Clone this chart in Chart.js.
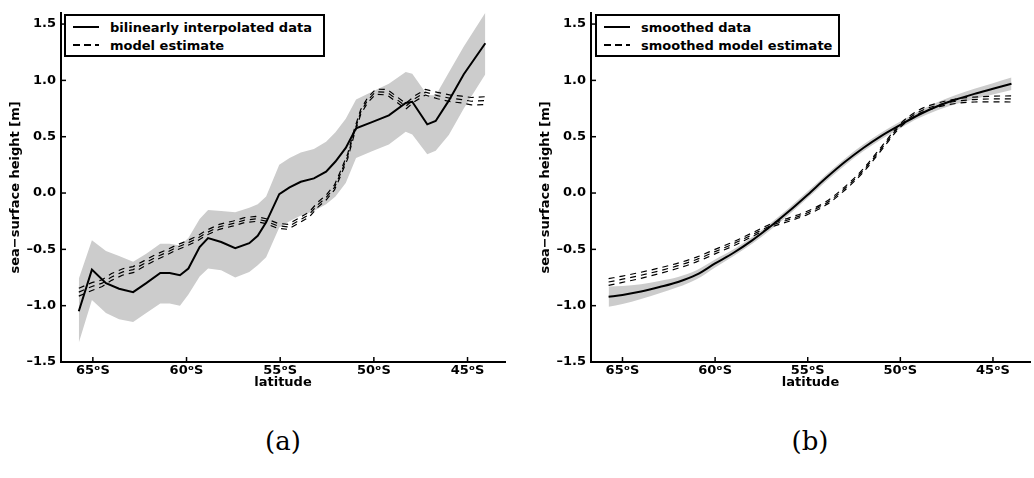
<!DOCTYPE html>
<html>
<head>
<meta charset="utf-8">
<script src="https://cdn.jsdelivr.net/npm/chart.js@4.4.0/dist/chart.umd.min.js"></script>
<style>
  body { margin: 0; background: #fff; width: 1034px; height: 478px; position: relative; overflow: hidden;
         font-family: 'DejaVu Sans', sans-serif; }
  canvas { position: absolute; top: 0; }
  .legend { position: absolute; top: 14px; height: 43px; box-sizing: border-box; border: 2px solid #000;
            background: #fff; padding-top: 2px; font-weight: bold; font-size: 13px; }
  .legend div { display: flex; align-items: center; height: 18px; white-space: nowrap; }
  .legend span.s { display: inline-block; margin-left: 7px; width: 26px; height: 2px; margin-right: 11px; background: #000; }
  .legend span.d { background: repeating-linear-gradient(to right, #000 0 7px, transparent 7px 11px); }
  .cap { position: absolute; top: 426px; width: 100px; line-height: 30px; text-align: center;
         font-family: 'DejaVu Serif', serif; font-size: 26px; }
</style>
</head>
<body>
<canvas id="chartA" width="515" height="400" style="left:0"></canvas>
<canvas id="chartB" width="504" height="400" style="left:530px"></canvas>

<div class="legend" style="left:64px; width:261px">
  <div><span class="s"></span>bilinearly interpolated data</div>
  <div><span class="s d"></span>model estimate</div>
</div>
<div class="legend" style="left:595px; width:245px">
  <div><span class="s"></span>smoothed data</div>
  <div><span class="s d"></span>smoothed model estimate</div>
</div>
<div class="cap" style="left:233px">(a)</div>
<div class="cap" style="left:760px">(b)</div>

<script>
// ---- panel (a): bilinearly interpolated data ----
const latA = [65.75, 65.05, 64.3, 63.6, 62.85, 62.15, 61.4, 60.9, 60.35, 59.9, 59.3, 58.85, 58.15, 57.4, 56.65, 56.2, 55.75,
              55.05, 54.5, 53.9, 53.2, 52.55, 52.05, 51.5, 50.95, 50.1, 49.2, 48.3, 47.95, 47.15, 46.7, 46.0, 45.2, 44.05];
const dataA = [-1.05, -0.68, -0.80, -0.85, -0.88, -0.80, -0.71, -0.71, -0.73, -0.67, -0.48, -0.40, -0.435, -0.49, -0.445, -0.38, -0.26,
               -0.01, 0.05, 0.10, 0.13, 0.19, 0.28, 0.40, 0.575, 0.63, 0.69, 0.80, 0.81, 0.61, 0.64, 0.82, 1.055, 1.33];
const bandHiA = [-0.76, -0.42, -0.515, -0.56, -0.61, -0.54, -0.45, -0.45, -0.465, -0.40, -0.23, -0.15, -0.16, -0.17, -0.13, -0.10, -0.03,
                 0.25, 0.31, 0.36, 0.39, 0.455, 0.54, 0.66, 0.83, 0.90, 0.97, 1.075, 1.06, 0.87, 0.865, 1.07, 1.30, 1.60];
const bandLoA = [-1.33, -0.95, -1.065, -1.12, -1.145, -1.065, -0.98, -0.98, -1.0, -0.90, -0.74, -0.67, -0.685, -0.75, -0.70, -0.64, -0.57,
                 -0.305, -0.25, -0.20, -0.16, -0.10, -0.03, 0.09, 0.31, 0.37, 0.43, 0.545, 0.52, 0.345, 0.375, 0.515, 0.75, 1.055];

const latModelA = [65.75, 65.05, 64.5, 64.0, 63.4, 62.85, 62.25, 61.7, 61.1, 60.55, 59.95, 59.4, 58.9, 58.25, 57.5, 56.9, 56.3, 55.75,
                   55.15, 54.6, 54.0, 53.45, 53.0, 52.55, 52.1, 51.8, 51.4, 51.05, 50.7, 50.35, 49.9, 49.3, 48.85, 48.3, 47.8, 47.25,
                   46.6, 45.9, 45.3, 44.8, 44.05];
const modelA = [-0.88, -0.83, -0.80, -0.745, -0.70, -0.68, -0.625, -0.575, -0.53, -0.485, -0.445, -0.40, -0.35, -0.30, -0.27, -0.24, -0.23, -0.25,
                -0.29, -0.30, -0.245, -0.19, -0.105, -0.04, 0.05, 0.165, 0.325, 0.54, 0.72, 0.82, 0.90, 0.895, 0.84, 0.77, 0.84, 0.895,
                0.865, 0.84, 0.83, 0.815, 0.82];
const modelHiA = [-0.845, -0.795, -0.77, -0.715, -0.672, -0.653, -0.6, -0.55, -0.507, -0.463, -0.423, -0.378, -0.328, -0.278, -0.248, -0.218, -0.208, -0.228,
                  -0.268, -0.278, -0.223, -0.168, -0.083, -0.018, 0.072, 0.187, 0.347, 0.562, 0.742, 0.842, 0.922, 0.92, 0.865, 0.795, 0.865, 0.92,
                  0.893, 0.87, 0.86, 0.848, 0.855];
const modelLoA = [-0.915, -0.865, -0.83, -0.775, -0.728, -0.707, -0.65, -0.6, -0.553, -0.507, -0.467, -0.422, -0.372, -0.322, -0.292, -0.262, -0.252, -0.272,
                  -0.312, -0.322, -0.267, -0.212, -0.127, -0.062, 0.028, 0.143, 0.303, 0.518, 0.698, 0.798, 0.878, 0.87, 0.815, 0.745, 0.815, 0.87,
                  0.837, 0.81, 0.80, 0.782, 0.785];

// ---- panel (b): smoothed ----
const latB = [65.75, 65, 64, 63, 62, 61, 60, 59, 58, 57, 56, 55, 54, 53, 52, 51, 50, 49, 48, 47, 46, 45, 44];
const smoothB = [-0.92, -0.905, -0.875, -0.835, -0.79, -0.725, -0.625, -0.53, -0.42, -0.295, -0.16, -0.015, 0.135, 0.275, 0.40, 0.51,
                 0.605, 0.695, 0.77, 0.83, 0.88, 0.925, 0.97];
const bandHiB = [-0.83, -0.825, -0.81, -0.78, -0.745, -0.685, -0.59, -0.50, -0.39, -0.265, -0.13, 0.015, 0.165, 0.305, 0.43, 0.54,
                 0.635, 0.725, 0.805, 0.87, 0.925, 0.975, 1.025];
const bandLoB = [-1.01, -0.985, -0.94, -0.89, -0.835, -0.765, -0.66, -0.56, -0.45, -0.325, -0.19, -0.045, 0.105, 0.245, 0.37, 0.48,
                 0.575, 0.665, 0.735, 0.79, 0.835, 0.875, 0.915];
const modelB = [-0.79, -0.765, -0.73, -0.69, -0.645, -0.59, -0.52, -0.45, -0.37, -0.29, -0.235, -0.175, -0.09, 0.04, 0.20, 0.40,
                0.60, 0.72, 0.78, 0.815, 0.83, 0.835, 0.835];
const modelHiB = [-0.76, -0.737, -0.703, -0.665, -0.622, -0.569, -0.5, -0.432, -0.354, -0.275, -0.22, -0.16, -0.075, 0.055, 0.215, 0.415,
                  0.615, 0.737, 0.798, 0.835, 0.852, 0.86, 0.862];
const modelLoB = [-0.82, -0.793, -0.757, -0.715, -0.668, -0.611, -0.54, -0.468, -0.386, -0.305, -0.25, -0.19, -0.105, 0.025, 0.185, 0.385,
                  0.585, 0.703, 0.762, 0.795, 0.808, 0.81, 0.808];

const yTicks = [-1.5, -1.0, -0.5, 0, 0.5, 1.0, 1.5];
const xTicks = [65, 60, 55, 50, 45];

const pts = (lat, vals) => lat.map((l, i) => ({x: -l, y: vals[i]}));

// matlab style ticks pointing into the plot
const innerTicks = {
  id: 'innerTicks',
  afterDraw(chart) {
    const ctx = chart.ctx, a = chart.chartArea;
    const sx = chart.scales.x, sy = chart.scales.y;
    ctx.save();
    ctx.strokeStyle = '#000';
    ctx.lineWidth = 1.5;
    sx.ticks.forEach(t => {
      const p = sx.getPixelForValue(t.value);
      ctx.beginPath(); ctx.moveTo(p, a.bottom); ctx.lineTo(p, a.bottom - 5); ctx.stroke();
    });
    sy.ticks.forEach(t => {
      const p = sy.getPixelForValue(t.value);
      ctx.beginPath(); ctx.moveTo(a.left, p); ctx.lineTo(a.left + 5, p); ctx.stroke();
    });
    ctx.restore();
  }
};

function line(data, dashed, smooth) {
  return {
    data: data, borderColor: '#000', borderWidth: dashed ? 1.2 : 2, borderDash: dashed ? [6, 5] : [],
    pointRadius: 0, fill: false, tension: 0, cubicInterpolationMode: smooth ? 'monotone' : 'default'
  };
}
function band(data, fill, smooth) {
  return {
    data: data, borderWidth: 0, borderColor: 'rgba(0,0,0,0)', backgroundColor: '#cccccc',
    pointRadius: 0, fill: fill, cubicInterpolationMode: smooth ? 'monotone' : 'default'
  };
}

function makeChart(id, datasets, padRight) {
  const font = {family: "'DejaVu Sans', sans-serif", size: 13, weight: 'bold'};
  return new Chart(document.getElementById(id), {
    type: 'line',
    data: {datasets: datasets},
    options: {
      responsive: false,
      animation: false,
      layout: {padding: {left: 0, right: padRight, top: 10, bottom: 0}},
      plugins: {legend: {display: false}, tooltip: {enabled: false}, filler: {drawTime: 'beforeDatasetsDraw'}},
      scales: {
        x: {
          type: 'linear', min: -66.7, max: -43.0,
          grid: {drawOnChartArea: false, drawTicks: false},
          border: {display: true, color: '#000', width: 2},
          ticks: {font: font, color: '#000', padding: 1, maxRotation: 0, callback: v => (-v) + 'ᵒS'},
          afterBuildTicks: s => { s.ticks = xTicks.map(v => ({value: -v})); },
          afterFit: s => { s.height = 38; },
          title: {display: true, text: 'latitude', font: font, color: '#000', padding: {top: 0, bottom: 10}}
        },
        y: {
          type: 'linear', min: -1.5, max: 1.6,
          grid: {drawOnChartArea: false, drawTicks: false},
          border: {display: true, color: '#000', width: 2},
          ticks: {font: font, color: '#000', padding: 5,
                  callback: v => (v < 0 ? '\u2013' : '') + Math.abs(v).toFixed(1)},
          afterBuildTicks: s => { s.ticks = yTicks.map(v => ({value: v})); },
          afterFit: s => { s.width = 61; },
          title: {display: true, text: 'sea\u2212surface height [m]', font: font, color: '#000', padding: {top: 8, bottom: 0}}
        }
      }
    },
    plugins: [innerTicks]
  });
}

makeChart('chartA', [
  line(pts(latA, dataA), false, false),
  line(pts(latModelA, modelHiA), true, false),
  line(pts(latModelA, modelA), true, false),
  line(pts(latModelA, modelLoA), true, false),
  band(pts(latA, bandHiA), '+1', false),
  band(pts(latA, bandLoA), false, false)
], 10);

makeChart('chartB', [
  line(pts(latB, smoothB), false, true),
  line(pts(latB, modelHiB), true, true),
  line(pts(latB, modelB), true, true),
  line(pts(latB, modelLoB), true, true),
  band(pts(latB, bandHiB), '+1', true),
  band(pts(latB, bandLoB), false, true)
], 4);
</script>
</body>
</html>
